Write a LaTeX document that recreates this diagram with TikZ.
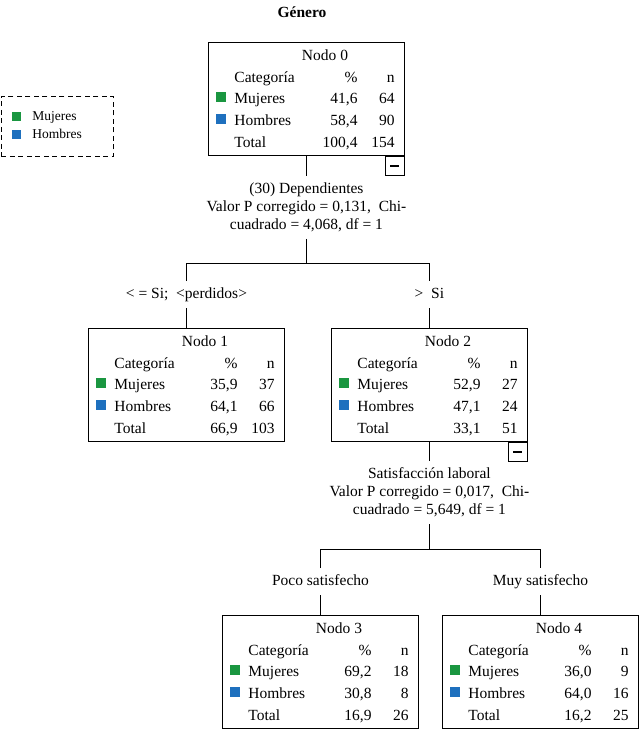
\documentclass[tikz,border=0pt]{standalone}
\usepackage{fontspec}
\setmainfont{Liberation Serif}
\usepackage{tikz}
\usetikzlibrary{calc,positioning}
\definecolor{verde}{RGB}{26,150,64}
\definecolor{azul}{RGB}{30,112,190}

\newcommand{\tabla}[8]{%
  \node[tit] (#1tit) at ($(#1.north west)+(117,18)$) {#2};
  \node[izq] (#1cat) at ($(#1.north west)+(26,40)$) {Categoría};
  \node[der] (#1pc) at ($(#1.north west)+(150,40)$) {\%};
  \node[der] (#1nc) at ($(#1.north west)+(187,40)$) {n};
  \node[cuad,fill=verde] (#1sm) at ($(#1.north west)+(13,55)$) {};
  \node[izq] (#1m) at ($(#1.north west)+(26,61)$) {Mujeres};
  \node[der] (#1mp) at ($(#1.north west)+(150,61)$) {#3};
  \node[der] (#1mn) at ($(#1.north west)+(187,61)$) {#4};
  \node[cuad,fill=azul] (#1sh) at ($(#1.north west)+(13,77)$) {};
  \node[izq] (#1h) at ($(#1.north west)+(26,83)$) {Hombres};
  \node[der] (#1hp) at ($(#1.north west)+(150,83)$) {#5};
  \node[der] (#1hn) at ($(#1.north west)+(187,83)$) {#6};
  \node[izq] (#1t) at ($(#1.north west)+(26,105)$) {Total};
  \node[der] (#1tp) at ($(#1.north west)+(150,105)$) {#7};
  \node[der] (#1tn) at ($(#1.north west)+(187,105)$) {#8};
}

\begin{document}
\begin{tikzpicture}[x=1pt,y=-1pt,font=\fontsize{15.5}{18}\selectfont,line width=0.9pt,
  caja/.style={draw,anchor=north west,minimum width=196pt,minimum height=113pt,inner sep=0pt},
  tit/.style={anchor=base,inner sep=0pt},
  izq/.style={anchor=base west,inner sep=0pt},
  der/.style={anchor=base east,inner sep=0pt},
  cuad/.style={minimum size=10pt,inner sep=0pt},
  menos/.style={draw,anchor=north east,minimum size=19pt,inner sep=0pt},
  corte/.style={align=center,inner ysep=6.5pt},
  rama/.style={text height=10pt,text depth=3pt,inner ysep=6.5pt,inner xsep=2pt}]
  \useasboundingbox (0,0) rectangle (640,729);

  \node[font=\fontsize{15.5}{16}\selectfont\bfseries] (titulo) at (302,12) {Género};

  \node[draw,dash pattern=on 5pt off 3.5pt,anchor=north west,minimum width=112pt,minimum height=60pt] (ley) at (1,96) {};
  \node[cuad,minimum size=9pt,fill=verde] (leym) at (16,116.5) {};
  \node[cuad,minimum size=9pt,fill=azul] (leyh) at (16,134) {};
  \node[izq,font=\fontsize{13.5}{15}\selectfont] (leymt) at (32,120.5) {Mujeres};
  \node[izq,font=\fontsize{13.5}{15}\selectfont] (leyht) at (32,138.5) {Hombres};

  \node[caja] (n0) at (208,42) {};
  \node[caja] (n1) at (88,328) {};
  \node[caja] (n2) at (331,328) {};
  \node[caja] (n3) at (222,615) {};
  \node[caja] (n4) at (442,615) {};
  \tabla{n0}{Nodo 0}{41,6}{64}{58,4}{90}{100,4}{154}
  \tabla{n1}{Nodo 1}{35,9}{37}{64,1}{66}{66,9}{103}
  \tabla{n2}{Nodo 2}{52,9}{27}{47,1}{24}{33,1}{51}
  \tabla{n3}{Nodo 3}{69,2}{18}{30,8}{8}{16,9}{26}
  \tabla{n4}{Nodo 4}{36,0}{9}{64,0}{16}{16,2}{25}

  \node[menos] (m0) at (n0.south east) {\rule{9pt}{2.4pt}};
  \node[menos] (m2) at (n2.south east) {\rule{9pt}{2.4pt}};

  \node[corte,below=20pt of n0] (s0) {(30) Dependientes\\Valor P corregido = 0,131,\ \ Chi-\\cuadrado = 4,068, df = 1};
  \node[corte,below=19pt of n2] (s1) {Satisfacción laboral\\Valor P corregido = 0,017,\ \ Chi-\\cuadrado = 5,649, df = 1};

  \node[rama,above=20pt of n1] (e1) {< = Si;\ \ <perdidos>};
  \node[rama,above=20pt of n2] (e2) {>\ \ Si};
  \node[rama,above=20pt of n3] (e3) {Poco satisfecho};
  \node[rama,above=20pt of n4] (e4) {Muy satisfecho};

  \coordinate (b0) at ($(s0.south)+(0,25)$);
  \coordinate (b1) at ($(s1.south)+(0,25)$);

  \draw (n0.south) -- (s0.north);
  \draw (s0.south) -- (b0);
  \draw (e1.north) |- (b0) -| (e2.north);
  \draw (e1.south) -- (n1.north);
  \draw (e2.south) -- (n2.north);
  \draw (n2.south) -- (s1.north);
  \draw (s1.south) -- (b1);
  \draw (e3.north) |- (b1) -| (e4.north);
  \draw (e3.south) -- (n3.north);
  \draw (e4.south) -- (n4.north);
\end{tikzpicture}
\end{document}
